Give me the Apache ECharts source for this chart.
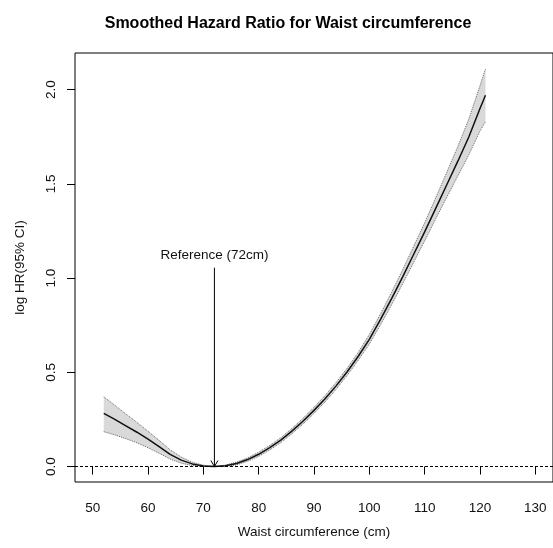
<!DOCTYPE html>
<html>
<head>
<meta charset="utf-8">
<script src="https://cdn.jsdelivr.net/npm/echarts@6/dist/echarts.min.js"></script>
<style>
  html, body { margin: 0; padding: 0; background: #fff; }
  #chart { width: 553px; height: 548px; }
</style>
</head>
<body>
<div id="chart"></div>
<script>
// waist circumference (cm)
var waist = [52, 54, 56, 58, 60, 62, 64, 66, 68, 70, 72, 74, 76, 78, 80, 82, 84, 86, 88, 90,
             92, 94, 96, 98, 100, 102, 104, 106, 108, 110, 112, 114, 116, 118, 120, 121];
// smoothed log HR
var logHR = [0.282, 0.250, 0.216, 0.182, 0.145, 0.106, 0.065, 0.034, 0.014, 0.003, 0, 0.004,
             0.016, 0.037, 0.065, 0.100, 0.140, 0.188, 0.240, 0.298, 0.360, 0.428, 0.503, 0.585,
             0.675, 0.780, 0.890, 1.005, 1.125, 1.245, 1.370, 1.495, 1.620, 1.750, 1.900, 1.970];
// 95% CI
var upperCI = [0.370, 0.325, 0.279, 0.234, 0.187, 0.139, 0.089, 0.050, 0.023, 0.007, 0, 0.008,
               0.023, 0.046, 0.076, 0.112, 0.153, 0.202, 0.255, 0.314, 0.377, 0.446, 0.522, 0.606,
               0.700, 0.809, 0.923, 1.042, 1.167, 1.293, 1.426, 1.561, 1.698, 1.845, 2.020, 2.110];
var lowerCI = [0.185, 0.168, 0.148, 0.126, 0.100, 0.071, 0.040, 0.018, 0.005, 0.000, 0, 0.000,
               0.009, 0.028, 0.054, 0.088, 0.127, 0.174, 0.225, 0.282, 0.343, 0.410, 0.484, 0.564,
               0.650, 0.751, 0.857, 0.968, 1.083, 1.197, 1.314, 1.429, 1.542, 1.655, 1.780, 1.830];

var xTicks = [50, 60, 70, 80, 90, 100, 110, 120, 130];
var yTicks = [0, 0.5, 1, 1.5, 2];

var refX = 72;
var refTop = 1.055;
var refLabelY = 1.122;

function pairs(ys) {
    var out = [];
    for (var i = 0; i < waist.length; i++) {
        out.push([waist[i], ys[i]]);
    }
    return out;
}

var font = 'Liberation Sans, Arial, sans-serif';
var chart = echarts.init(document.getElementById('chart'));

var option = {
    animation: false,
    backgroundColor: '#fff',
    title: {
        text: 'Smoothed Hazard Ratio for Waist circumference',
        left: 283,
        top: 11,
        textAlign: 'center',
        textStyle: { fontFamily: font, fontSize: 16, fontWeight: 'bold', color: '#000' }
    },
    grid: {
        left: 75, top: 53, width: 479, bottom: 66,
        show: true, borderColor: '#000', borderWidth: 1, backgroundColor: 'transparent'
    },
    xAxis: {
        type: 'value',
        min: 46.8, max: 133.2,
        name: 'Waist circumference (cm)',
        nameLocation: 'middle',
        nameGap: 43,
        nameTextStyle: { fontFamily: font, fontSize: 13.5, color: '#111' },
        axisLine: { show: false },
        splitLine: { show: false },
        axisTick: { show: true, inside: false, length: 8, lineStyle: { color: '#000' }, customValues: xTicks },
        axisLabel: { margin: 19, fontFamily: font, fontSize: 13.5, color: '#111', customValues: xTicks }
    },
    yAxis: {
        type: 'value',
        min: -0.082, max: 2.194,
        name: 'log HR(95% CI)',
        nameLocation: 'middle',
        nameRotate: 90,
        nameGap: 48,
        nameTextStyle: { fontFamily: font, fontSize: 13.5, color: '#111' },
        axisLine: { show: false },
        splitLine: { show: false },
        axisTick: { show: true, inside: false, length: 8, lineStyle: { color: '#000' }, customValues: yTicks },
        axisLabel: {
            margin: 17, rotate: 90, fontFamily: font, fontSize: 13.5, color: '#111',
            customValues: yTicks,
            formatter: function (v) { return v.toFixed(1); }
        }
    },
    series: [
        {
            // CI band
            type: 'custom',
            silent: true,
            data: [[waist[0], 0]],
            renderItem: function (params, api) {
                var pts = [];
                for (var i = 0; i < waist.length; i++) {
                    pts.push(api.coord([waist[i], upperCI[i]]));
                }
                for (var j = waist.length - 1; j >= 0; j--) {
                    pts.push(api.coord([waist[j], lowerCI[j]]));
                }
                return {
                    type: 'polygon',
                    shape: { points: pts },
                    style: { fill: '#d9d9d9', stroke: null }
                };
            },
            z: 1
        },
        {
            type: 'line', data: pairs(upperCI), symbol: 'none', silent: true,
            lineStyle: { color: '#666', width: 1, type: [1, 1] }, z: 2
        },
        {
            type: 'line', data: pairs(lowerCI), symbol: 'none', silent: true,
            lineStyle: { color: '#666', width: 1, type: [1, 1] }, z: 2
        },
        {
            type: 'line', data: pairs(logHR), symbol: 'none', silent: true,
            lineStyle: { color: '#111', width: 1.5 }, z: 3,
            markLine: {
                silent: true,
                symbol: 'none',
                label: { show: false },
                lineStyle: { color: '#000', width: 1, type: [3, 2] },
                data: [{ yAxis: 0 }]
            }
        },
        {
            // reference arrow
            type: 'custom',
            silent: true,
            data: [[refX, refTop]],
            renderItem: function (params, api) {
                var top = api.coord([refX, refTop]);
                var tip = api.coord([refX, 0]);
                var lab = api.coord([refX, refLabelY]);
                return {
                    type: 'group',
                    children: [
                        { type: 'line', shape: { x1: top[0], y1: top[1], x2: tip[0], y2: tip[1] },
                          style: { stroke: '#000', lineWidth: 1 } },
                        { type: 'polyline', shape: { points: [[tip[0] - 3.5, tip[1] - 6], tip, [tip[0] + 3.5, tip[1] - 6]] },
                          style: { stroke: '#000', lineWidth: 1, fill: null } },
                        { type: 'text', x: lab[0], y: lab[1],
                          style: { text: 'Reference (72cm)', fontFamily: font, fontSize: 13.5, fill: '#111',
                                   align: 'center', verticalAlign: 'middle' } }
                    ]
                };
            },
            z: 4
        }
    ]
};

chart.setOption(option);
</script>
</body>
</html>
